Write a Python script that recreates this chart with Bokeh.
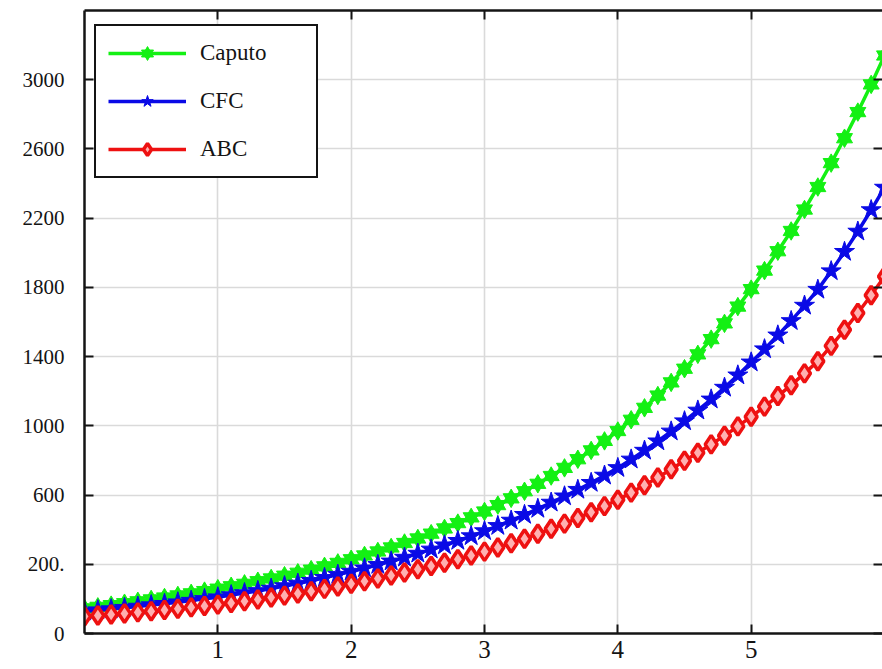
from bokeh.plotting import figure
from bokeh.models import Range1d, LinearAxis, Legend, LegendItem, FixedTicker, ColumnDataSource
from bokeh.embed import file_html
from bokeh.resources import INLINE

# ---- data ----
t = [0.0, 0.1, 0.2, 0.3, 0.4, 0.5, 0.6, 0.7, 0.8, 0.9,
     1.0, 1.1, 1.2, 1.3, 1.4, 1.5, 1.6, 1.7, 1.8, 1.9,
     2.0, 2.1, 2.2, 2.3, 2.4, 2.5, 2.6, 2.7, 2.8, 2.9,
     3.0, 3.1, 3.2, 3.3, 3.4, 3.5, 3.6, 3.7, 3.8, 3.9,
     4.0, 4.1, 4.2, 4.3, 4.4, 4.5, 4.6, 4.7, 4.8, 4.9,
     5.0, 5.1, 5.2, 5.3, 5.4, 5.5, 5.6, 5.7, 5.8, 5.9, 6.0]

caputo = [-55, -46, -36, -25, -14, -3, 8, 20, 32, 45,
          59, 73, 87, 102, 118, 134, 151, 169, 188, 208,
          229, 251, 274, 297, 323, 349, 377, 407, 438, 471,
          505, 542, 581, 622, 665, 710, 757, 807, 858, 913,
          970, 1035, 1104, 1175, 1251, 1330, 1413, 1501, 1592, 1689,
          1790, 1897, 2009, 2126, 2250, 2380, 2518, 2662, 2813, 2973, 3140]

cfc = [-72, -65, -59, -51, -44, -36, -28, -19, -10, 0,
       10, 22, 34, 46, 60, 74, 89, 105, 122, 140,
       158, 177, 197, 217, 239, 262, 286, 310, 336, 363,
       392, 422, 453, 486, 521, 557, 593, 631, 671, 713,
       757, 806, 857, 911, 968, 1027, 1089, 1153, 1221, 1292,
       1367, 1443, 1523, 1606, 1695, 1787, 1894, 2006, 2123, 2247, 2377]

abc = [-101, -96, -90, -84, -78, -71, -64, -57, -49, -41,
       -33, -24, -14, -3, 8, 19, 31, 44, 58, 72,
       87, 102, 118, 135, 153, 171, 190, 209, 229, 251,
       273, 297, 322, 348, 376, 405, 435, 467, 501, 536,
       573, 614, 657, 701, 749, 798, 844, 893, 943, 997,
       1053, 1111, 1172, 1235, 1303, 1373, 1462, 1555, 1652, 1755, 1863]

series_names = ["Caputo", "CFC", "ABC"]
x_ticks = [1, 2, 3, 4, 5]
y_ticks = [-200, 200, 600, 1000, 1400, 1800, 2200, 2600, 3000]
y_tick_labels = ["0", "200.", "600", "1000", "1400", "1800", "2200", "2600", "3000"]

FONT = "Liberation Serif"
GREEN = "#14f014"
BLUE = "#0a0ae6"
RED = "#ee1111"
INK = "#141414"

src = ColumnDataSource(dict(t=t, caputo=caputo, cfc=cfc, abc=abc))

p = figure(width=882, height=669, x_range=Range1d(0, 5.985), y_range=Range1d(-200, 3400),
           output_backend="svg", toolbar_location=None,
           min_border_left=84, min_border_right=0, min_border_top=10, min_border_bottom=36)
p.outline_line_color = None
p.background_fill_color = "white"
p.border_fill_color = "white"

# axes
p.xaxis.ticker = FixedTicker(ticks=x_ticks)
p.yaxis.ticker = FixedTicker(ticks=y_ticks)
p.yaxis.major_label_overrides = {tk: lab for tk, lab in zip(y_ticks, y_tick_labels)}
for ax in (p.xaxis[0], p.yaxis[0]):
    ax.axis_line_width = 2.5
    ax.axis_line_color = INK
    ax.major_tick_in = 9
    ax.major_tick_out = 0
    ax.major_tick_line_width = 2
    ax.major_tick_line_color = INK
    ax.minor_tick_line_color = None
    ax.major_label_text_font = FONT
    ax.major_label_text_color = INK
p.xaxis.major_label_text_font_size = "25px"
p.xaxis.major_label_standoff = 7
p.yaxis.major_label_text_font_size = "21px"
p.yaxis.major_label_standoff = 20

top_axis = LinearAxis(ticker=FixedTicker(ticks=x_ticks),
                      major_label_overrides={tk: "" for tk in x_ticks},
                      major_label_standoff=0, major_tick_in=9, major_tick_out=0,
                      major_tick_line_width=2, major_tick_line_color=INK,
                      axis_line_width=2.5, axis_line_color=INK,
                      minor_tick_line_color=None)
p.add_layout(top_axis, "above")
right_axis = LinearAxis(ticker=FixedTicker(ticks=y_ticks),
                        major_label_overrides={tk: "" for tk in y_ticks},
                        major_label_standoff=0, major_tick_in=9, major_tick_out=0,
                        major_tick_line_width=2, major_tick_line_color=INK,
                        axis_line_alpha=0, minor_tick_line_color=None)
p.add_layout(right_axis, "right")

p.xgrid.ticker = FixedTicker(ticks=x_ticks)
p.ygrid.ticker = FixedTicker(ticks=y_ticks)
p.grid.grid_line_color = "#dadada"
p.grid.grid_line_width = 1.6

# series
g_line = p.line("t", "caputo", source=src, line_color=GREEN, line_width=3.5)
g_m1 = p.scatter("t", "caputo", source=src, marker="triangle", size=16,
                 fill_color=GREEN, line_color=GREEN, line_width=1)
g_m2 = p.scatter("t", "caputo", source=src, marker="inverted_triangle", size=16,
                 fill_color=GREEN, line_color=GREEN, line_width=1)

b_line = p.line("t", "cfc", source=src, line_color=BLUE, line_width=3.5)
b_m = p.scatter("t", "cfc", source=src, marker="star", size=21,
                fill_color=BLUE, line_color=BLUE, line_width=1)

r_line = p.line("t", "abc", source=src, line_color=RED, line_width=3.5)
r_m = p.scatter("t", "abc", source=src, marker="diamond", size=18,
                fill_color="#ffb0b0", line_color=RED, line_width=3.5)

legend = Legend(items=[
    LegendItem(label=series_names[0], renderers=[g_line, g_m1, g_m2]),
    LegendItem(label=series_names[1], renderers=[b_line, b_m]),
    LegendItem(label=series_names[2], renderers=[r_line, r_m]),
], location=(10, 455))
legend.label_text_font = FONT
legend.label_text_font_size = "23px"
legend.label_text_color = INK
legend.padding = 12
legend.glyph_width = 78
legend.glyph_height = 30
legend.spacing = 18
legend.label_standoff = 14
legend.label_width = 104
legend.border_line_color = INK
legend.border_line_width = 2.5
legend.border_line_alpha = 1
legend.background_fill_color = "white"
legend.background_fill_alpha = 1
p.add_layout(legend, "center")

open("out.html", "w").write(file_html(p, INLINE))
